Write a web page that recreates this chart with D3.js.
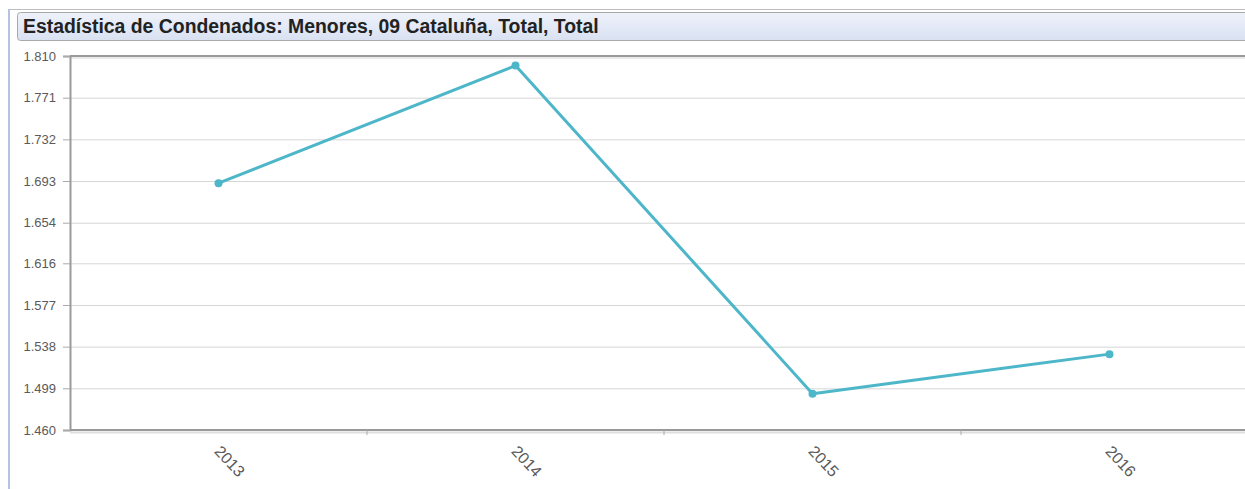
<!DOCTYPE html>
<html>
<head>
<meta charset="utf-8">
<title>Estadística de Condenados</title>
<script src="https://cdn.jsdelivr.net/npm/d3@7"></script>
<style>
  body { margin: 0; background: #fff; overflow: hidden; }
  svg { display: block; font-family: "Liberation Sans", Arial, sans-serif; }
  .grid line { stroke: #d6d6d6; }
  .grid path { display: none; }
  .yaxis text { fill: #5a5a5a; font-size: 13px; }
  .xaxis text { fill: #5a5a5a; font-size: 16px; }
</style>
</head>
<body>
<div id="chart"></div>
<script>
  var years = ["2013", "2014", "2015", "2016"];
  var totals = [1691, 1801, 1494, 1531];
  var yTicks = [1460, 1499, 1538, 1577, 1616, 1654, 1693, 1732, 1771, 1810];
  var title = "Estadística de Condenados: Menores, 09 Cataluña, Total, Total";

  var W = 1245, H = 489;
  var margin = {left: 70, top: 56, bottom: 59};
  var plotW = 1188;   // runs past the right edge, as in the original
  var high = H - margin.top - margin.bottom;

  var svg = d3.select("#chart").append("svg")
    .attr("width", W).attr("height", H);

  var defs = svg.append("defs");
  var grad = defs.append("linearGradient").attr("id", "tg")
    .attr("x1", 0).attr("y1", 0).attr("x2", 0).attr("y2", 1);
  grad.append("stop").attr("offset", "0%").attr("stop-color", "#eef2fa");
  grad.append("stop").attr("offset", "100%").attr("stop-color", "#d9e1f2");

  // frame
  svg.append("rect").attr("x", 8).attr("y", 9).attr("width", 2).attr("height", H - 9)
    .attr("fill", "#b4c3e0");
  svg.append("line").attr("x1", 10).attr("x2", W).attr("y1", 9.5).attr("y2", 9.5)
    .attr("stroke", "#bdbdbd");

  // title box
  svg.append("rect").attr("x", 17.5).attr("y", 12.5).attr("width", W).attr("height", 28)
    .attr("rx", 3).attr("fill", "url(#tg)").attr("stroke", "#a9a9a9");
  svg.append("text").attr("x", 23).attr("y", 33)
    .attr("font-size", "19.4px").attr("font-weight", "bold").attr("fill", "#222")
    .text(title);

  var g = svg.append("g")
    .attr("transform", "translate(" + margin.left + "," + margin.top + ")");

  var x = d3.scaleBand().domain(years).range([0, plotW]);
  var y = d3.scaleLinear().domain([d3.min(yTicks), d3.max(yTicks)]).range([high, 0]);

  var fmt = d3.formatLocale({decimal: ",", thousands: ".", grouping: [3], currency: ["", " €"]}).format(",.0f");

  // gridlines
  g.append("g").attr("class", "grid")
    .call(d3.axisLeft(y).tickValues(yTicks).tickSize(-plotW).tickFormat(""));

  // top border
  g.append("line").attr("x1", 0).attr("x2", plotW).attr("y1", 0).attr("y2", 0)
    .attr("stroke", "#9a9a9a").attr("stroke-width", 2);
  g.append("line").attr("x1", 0).attr("x2", plotW).attr("y1", 2).attr("y2", 2)
    .attr("stroke", "#e4e4e4").attr("stroke-width", 1.5);

  // y axis
  var ya = g.append("g").attr("class", "yaxis")
    .call(d3.axisLeft(y).tickValues(yTicks).tickSize(7).tickPadding(7).tickFormat(fmt));
  ya.select(".domain").attr("stroke", "#9a9a9a").attr("stroke-width", 2);
  ya.selectAll(".tick line").attr("stroke", "#aaa");

  // x axis
  var xa = g.append("g").attr("class", "xaxis")
    .attr("transform", "translate(0," + high + ")")
    .call(d3.axisBottom(x).tickSize(0).tickPadding(0));
  xa.select(".domain").remove();
  xa.append("line").attr("x1", 0).attr("x2", plotW).attr("y1", 0).attr("y2", 0)
    .attr("stroke", "#999").attr("stroke-width", 2);
  xa.append("line").attr("x1", 0).attr("x2", plotW).attr("y1", 2.5).attr("y2", 2.5)
    .attr("stroke", "#dedede").attr("stroke-width", 2);
  xa.selectAll(".bound").data(years.slice(1)).enter().append("line")
    .attr("class", "bound")
    .attr("x1", function(d) { return x(d); }).attr("x2", function(d) { return x(d); })
    .attr("y1", 0).attr("y2", 5).attr("stroke", "#aaa");
  xa.selectAll(".tick text")
    .attr("text-anchor", "start")
    .attr("dy", 0)
    .attr("transform", "translate(-5,22) rotate(47)");

  // line
  var line = d3.line()
    .x(function(d, i) { return x(years[i]) + x.bandwidth() / 2; })
    .y(function(d) { return y(d); });

  g.append("path").datum(totals)
    .attr("d", line)
    .attr("fill", "none")
    .attr("stroke", "#4db6c9")
    .attr("stroke-width", 3)
    .attr("stroke-linejoin", "round");

  g.selectAll(".pt").data(totals).enter().append("circle")
    .attr("class", "pt")
    .attr("cx", function(d, i) { return x(years[i]) + x.bandwidth() / 2; })
    .attr("cy", function(d) { return y(d); })
    .attr("r", 4)
    .attr("fill", "#4db6c9");
</script>
</body>
</html>
